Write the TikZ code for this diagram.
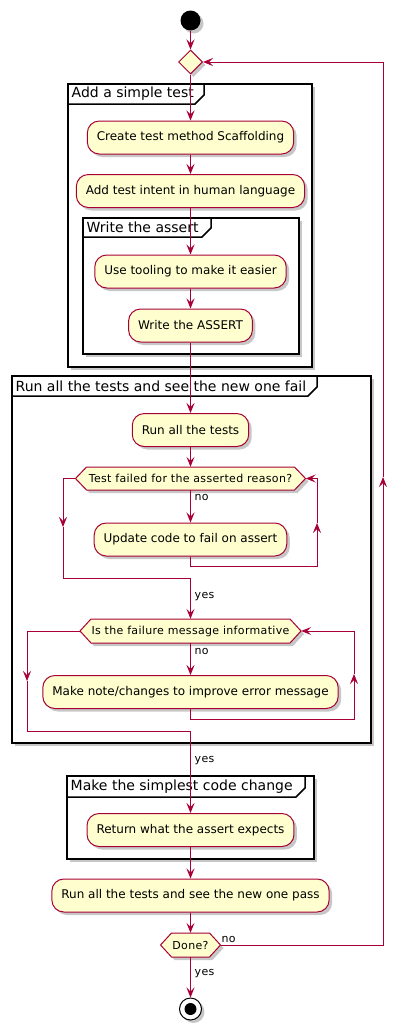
\documentclass[tikz,border=0pt]{standalone}
\usepackage{fontspec}
\setmainfont{DejaVu Sans}
\newfontfamily\hexfont[LetterSpace=3]{DejaVu Sans}
\usetikzlibrary{shapes.geometric,arrows.meta,shadows,calc}
\definecolor{bord}{HTML}{A80036}
\definecolor{actfill}{HTML}{FEFECE}
\newcommand\myframe[8]{% name, x1,y1,x2,y2,tabright,tabbottom,title
  \draw[frm] (#2,#3) rectangle (#4,#5);
  \draw[black,line width=1.5pt] (#2,#7) -- ({#6-9},#7) -- (#6,{#7-9}) -- (#6,#3);
  \node[ftitle] (#1) at ({#2+3.5},{(#3+#7)/2}) {#8};}
\newcommand\hexnode[6]{% name, cx, cy, halfw, halfh, text
  \path[hexd] ({#2-#4},#3) -- ({#2-#4+11},{#3-#5}) -- ({#2+#4-11},{#3-#5}) -- ({#2+#4},#3) -- ({#2+#4-11},{#3+#5}) -- ({#2-#4+11},{#3+#5}) -- cycle;
  \node[hext,minimum width={#4*2pt},minimum height={#5*2pt}] (#1) at (#2,#3) {#6};}
\begin{document}
\begin{tikzpicture}[x=1pt,y=-1pt,
  >={Stealth[length=10pt,width=8pt,inset=4pt]},
  shad/.style={drop shadow={shadow xshift=3pt,shadow yshift=-3pt,fill=black,opacity=0.22}},
  act/.style={draw=bord,fill=actfill,line width=1pt,rounded corners=12pt,minimum height=33pt,inner xsep=9.5pt,inner ysep=0pt,font=\fontsize{12}{14}\selectfont,shad},
  hexd/.style={draw=bord,fill=actfill,line width=1pt,shad},
  hext/.style={inner sep=0pt,font=\hexfont\fontsize{11}{13}\selectfont},
  flow/.style={draw=bord,line width=1pt},
  lbl/.style={inner sep=0pt,anchor=west,font=\hexfont\fontsize{11}{13}\selectfont},
  frm/.style={draw=black,fill=white,line width=1.5pt,shad},
  ftitle/.style={inner sep=0pt,anchor=west,font=\fontsize{14}{16}\selectfont},
]
\useasboundingbox (0,0) rectangle (407,1036);
% frames
\myframe{fA}{68}{84}{312}{367}{204}{104}{Add a simple test}
\myframe{fW}{83}{218}{299}{354}{211}{237}{Write the assert}
\myframe{fR}{12}{376}{371}{743}{317}{396}{Run all the tests and see the new one fail}
\myframe{fM}{67}{776}{314}{859}{305}{797}{Make the simplest code change}
% nodes
\node[circle,fill=black,minimum size=20pt,inner sep=0pt,shad] (start) at (190.5,20.5) {};
\node[diamond,draw=bord,fill=actfill,line width=1pt,minimum size=24pt,inner sep=0pt,shad] (merge) at (190.5,62) {};
\node[act] (create) at (190.5,137.5) {Create test method Scaffolding};
\node[act] (intent) at (190.5,191) {Add test intent in human language};
\node[act] (tool) at (190.5,271.5) {Use tooling to make it easier};
\node[act] (wassert) at (190.5,325.5) {Write the ASSERT};
\node[act] (runall) at (190.5,430) {Run all the tests};
\hexnode{h1}{190.5}{478.5}{115}{11.5}{Test failed for the asserted reason?}
\node[act] (upd) at (190.5,539.5) {Update code to fail on assert};
\hexnode{h2}{190.5}{631}{110.5}{12}{Is the failure message informative}
\node[act] (mk) at (190.5,692) {Make note/changes to improve error message};
\node[act] (ret) at (190.5,830) {Return what the assert expects};
\node[act] (pass) at (190.5,895.5) {Run all the tests and see the new one pass};
\hexnode{done}{190.5}{945}{30}{12}{Done?}
\node[circle,draw=black,fill=white,minimum size=22pt,inner sep=0pt,line width=1pt,shad] (stop) at (190.5,1009) {};
\node[circle,fill=black,minimum size=12pt,inner sep=0pt] (stopin) at (stop) {};
% connectors
\draw[flow,->] (start) -- (merge.north);
\draw[flow,->] (merge.south) -- (create.north);
\draw[flow,->] (create) -- (intent);
\draw[flow,->] (intent) -- (tool);
\draw[flow,->] (tool) -- (wassert);
\draw[flow,->] (wassert) -- (runall);
\draw[flow,->] (runall) -- (h1);
\draw[flow,->] (h1) -- (upd);
\node[lbl] (no1) at (194.5,497) {no};
% loop right 1
\coordinate (r1a) at (190.5,566); \coordinate (r1b) at (317,566);
\coordinate (r1m) at (317,523); \coordinate (r1c) at (317,478.5);
\draw[flow,->] (upd.south) -- (r1a) -- (r1b) -- (r1m);
\draw[flow,->] (r1m) -- (r1c) -- (h1.east);
% left 1
\coordinate (l1a) at (63,478.5); \coordinate (l1m) at (63,527);
\coordinate (l1b) at (63,578); \coordinate (j1) at (190.5,578);
\draw[flow,->] (h1.west) -- (l1a) -- (l1m);
\draw[flow,->] (l1m) -- (l1b) -- (j1) -- (h2.north);
\node[lbl] (yes1) at (194.5,597) {yes};
\draw[flow,->] (h2) -- (mk);
\node[lbl] (no2) at (194.5,651) {no};
% loop right 2
\coordinate (r2a) at (190.5,719); \coordinate (r2b) at (354,719);
\coordinate (r2m) at (354,674); \coordinate (r2c) at (354,631);
\draw[flow,->] (mk.south) -- (r2a) -- (r2b) -- (r2m);
\draw[flow,->] (r2m) -- (r2c) -- (h2.east);
% left 2
\coordinate (l2a) at (27,631); \coordinate (l2m) at (27,681);
\coordinate (l2b) at (27,731); \coordinate (j2) at (190.5,731);
\draw[flow,->] (h2.west) -- (l2a) -- (l2m);
\draw[flow,->] (l2m) -- (l2b) -- (j2) -- (ret.north);
\node[lbl] (yes2) at (194.5,761) {yes};
\draw[flow,->] (ret) -- (pass);
\draw[flow,->] (pass) -- (done.north);
\draw[flow,->] (done.south) -- (stop);
\node[lbl] (yes3) at (194.5,974) {yes};
% outer loop
\coordinate (oa) at (383,945); \coordinate (om) at (383,477); \coordinate (ob) at (383,62);
\draw[flow,->] (done.east) -- (oa) -- (om);
\draw[flow,->] (om) -- (ob) -- (merge.east);
\node[lbl] (no3) at (221.5,939) {no};
\end{tikzpicture}
\end{document}
